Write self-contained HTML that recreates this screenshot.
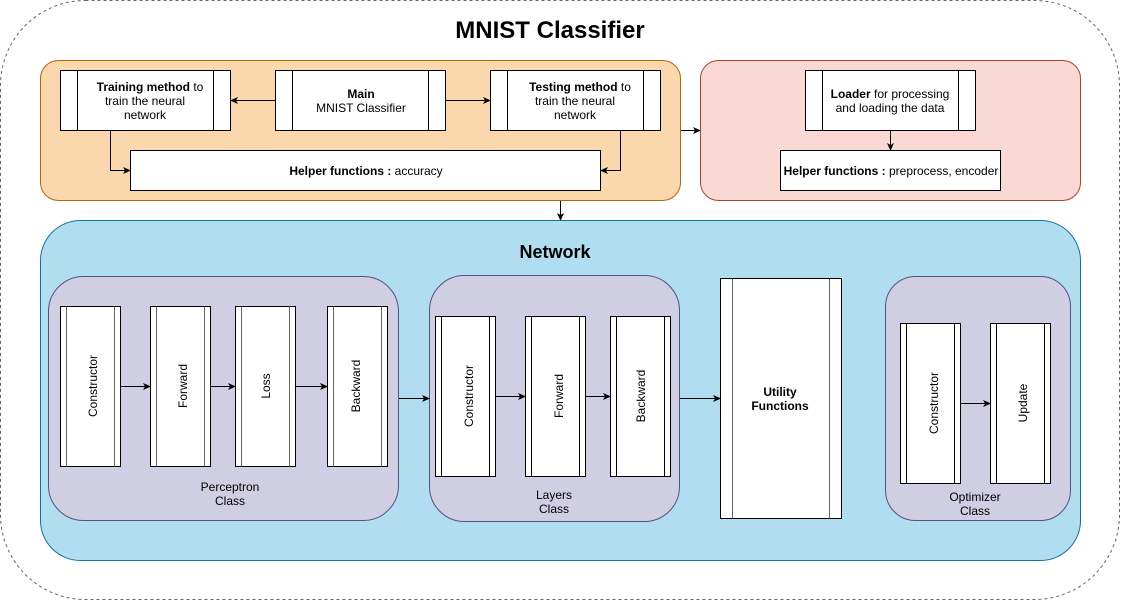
<!DOCTYPE html>
<html><head><meta charset="utf-8"><style>
html,body{margin:0;padding:0;background:#fff;}
svg{display:block;font-family:"Liberation Sans",Arial,sans-serif;}
</style></head><body>
<svg width="1121" height="601" viewBox="0 0 1121 601" xmlns="http://www.w3.org/2000/svg">
<defs>
<marker id="a" markerWidth="8" markerHeight="8" refX="7" refY="4" orient="auto" markerUnits="userSpaceOnUse">
<path d="M0,0.5 L8,4 L0,7.5 L2,4 Z" fill="#000"/></marker>
</defs>
<rect x="0.5" y="0.5" width="1119" height="599" rx="85" fill="#fff" stroke="#666" stroke-dasharray="3,3"/>
<text x="550" y="38" text-anchor="middle" font-size="24" font-weight="bold">MNIST Classifier</text>

<!-- orange -->
<rect x="40.5" y="60.5" width="640" height="140" rx="18" fill="#fad7ac" stroke="#b46504"/>
<g fill="#fff" stroke="#000">
<rect x="60.5" y="70.5" width="170" height="60"/><line x1="77.5" y1="70.5" x2="77.5" y2="130.5"/><line x1="213.5" y1="70.5" x2="213.5" y2="130.5"/>
<rect x="275.5" y="70.5" width="170" height="60"/><line x1="292.5" y1="70.5" x2="292.5" y2="130.5"/><line x1="428.5" y1="70.5" x2="428.5" y2="130.5"/>
<rect x="490.5" y="70.5" width="170" height="60"/><line x1="507.5" y1="70.5" x2="507.5" y2="130.5"/><line x1="643.5" y1="70.5" x2="643.5" y2="130.5"/>
<rect x="130.5" y="150.5" width="470" height="40"/>
</g>
<g font-size="12" text-anchor="middle">
<text x="150" y="91"><tspan font-weight="bold">Training method</tspan> to</text>
<text x="145" y="105">train the neural</text><text x="145" y="119">network</text>
<text x="361" y="98" font-weight="bold">Main</text><text x="361" y="112">MNIST Classifier</text>
<text x="580" y="91"><tspan font-weight="bold">Testing method</tspan> to</text>
<text x="575" y="105">train the neural</text><text x="575" y="119">network</text>
<text x="366" y="175"><tspan font-weight="bold">Helper functions  :</tspan> accuracy</text>
</g>
<g stroke="#000" fill="none" marker-end="url(#a)">
<line x1="275" y1="100.5" x2="231" y2="100.5"/>
<line x1="446" y1="100.5" x2="490" y2="100.5"/>
<polyline points="110.5,131 110.5,170.5 130,170.5"/>
<polyline points="620.5,131 620.5,170.5 601,170.5"/>
<line x1="681" y1="130.5" x2="700" y2="130.5"/>
<line x1="560.5" y1="201" x2="560.5" y2="220"/>
</g>

<!-- red -->
<rect x="700.5" y="60.5" width="380" height="140" rx="18" fill="#fad9d5" stroke="#ae4132"/>
<g fill="#fff" stroke="#000">
<rect x="805.5" y="70.5" width="170" height="60"/><line x1="822.5" y1="70.5" x2="822.5" y2="130.5"/><line x1="958.5" y1="70.5" x2="958.5" y2="130.5"/>
<rect x="780.5" y="150.5" width="220" height="40"/>
</g>
<g font-size="12" text-anchor="middle">
<text x="890" y="98"><tspan font-weight="bold">Loader</tspan> for processing</text>
<text x="890" y="112">and loading the data</text>
<text x="891" y="175"><tspan font-weight="bold">Helper functions :</tspan> preprocess, encoder</text>
</g>
<line x1="890.5" y1="131" x2="890.5" y2="150" stroke="#000" marker-end="url(#a)"/>

<!-- blue -->
<rect x="40.5" y="220.5" width="1040" height="340" rx="40" fill="#b1ddf0" stroke="#10739e"/>
<text x="555" y="258" text-anchor="middle" font-size="18" font-weight="bold">Network</text>

<g fill="#d0cee2" stroke="#56517e">
<rect x="48.5" y="276.5" width="350" height="244" rx="35"/>
<rect x="429.5" y="275.5" width="250" height="246" rx="35"/>
<rect x="885.5" y="276.5" width="185" height="244" rx="30"/>
</g>

<g fill="#fff" stroke="#000">
<!-- perceptron -->
<rect x="60.5" y="306.5" width="60" height="160"/><rect x="150.5" y="306.5" width="60" height="160"/>
<rect x="235.5" y="306.5" width="60" height="160"/><rect x="327.5" y="306.5" width="60" height="160"/>
<!-- layers -->
<rect x="435.5" y="316.5" width="60" height="160"/><rect x="525.5" y="316.5" width="60" height="160"/><rect x="610.5" y="316.5" width="60" height="160"/>
<!-- utility -->
<rect x="720.5" y="278.5" width="121" height="240"/>
<!-- optimizer -->
<rect x="900.5" y="323.5" width="60" height="160"/><rect x="990.5" y="323.5" width="60" height="160"/>
</g>
<g stroke="#666" stroke-width="1">
<line x1="66.5" y1="306.5" x2="66.5" y2="466.5"/><line x1="114.5" y1="306.5" x2="114.5" y2="466.5"/>
<line x1="156.5" y1="306.5" x2="156.5" y2="466.5"/><line x1="204.5" y1="306.5" x2="204.5" y2="466.5"/>
<line x1="241.5" y1="306.5" x2="241.5" y2="466.5"/><line x1="289.5" y1="306.5" x2="289.5" y2="466.5"/>
<line x1="333.5" y1="306.5" x2="333.5" y2="466.5"/><line x1="381.5" y1="306.5" x2="381.5" y2="466.5"/>
<line x1="732.5" y1="278.5" x2="732.5" y2="518.5"/><line x1="829.5" y1="278.5" x2="829.5" y2="518.5"/>
</g>
<g stroke="#000">
<line x1="441.5" y1="316.5" x2="441.5" y2="476.5"/><line x1="489.5" y1="316.5" x2="489.5" y2="476.5"/>
<line x1="531.5" y1="316.5" x2="531.5" y2="476.5"/><line x1="579.5" y1="316.5" x2="579.5" y2="476.5"/>
<line x1="616.5" y1="316.5" x2="616.5" y2="476.5"/><line x1="664.5" y1="316.5" x2="664.5" y2="476.5"/>
<line x1="906.5" y1="323.5" x2="906.5" y2="483.5"/><line x1="954.5" y1="323.5" x2="954.5" y2="483.5"/>
<line x1="996.5" y1="323.5" x2="996.5" y2="483.5"/><line x1="1044.5" y1="323.5" x2="1044.5" y2="483.5"/>
</g>

<g font-size="12" text-anchor="middle" dominant-baseline="central">
<text transform="translate(93,386) rotate(-90)">Constructor</text>
<text transform="translate(183,386) rotate(-90)">Forward</text>
<text transform="translate(266,386) rotate(-90)">Loss</text>
<text transform="translate(356,386) rotate(-90)">Backward</text>
<text transform="translate(469,396) rotate(-90)">Constructor</text>
<text transform="translate(559,396) rotate(-90)">Forward</text>
<text transform="translate(641,396) rotate(-90)">Backward</text>
<text transform="translate(934,403) rotate(-90)">Constructor</text>
<text transform="translate(1023,403) rotate(-90)">Update</text>
</g>
<g font-size="12" text-anchor="middle">
<text x="230" y="491">Perceptron</text><text x="230" y="505">Class</text>
<text x="554" y="499">Layers</text><text x="554" y="513">Class</text>
<text x="975" y="501">Optimizer</text><text x="975" y="515">Class</text>
<text x="780" y="396" font-weight="bold">Utility</text><text x="780" y="410" font-weight="bold">Functions</text>
</g>

<g stroke="#000" fill="none" marker-end="url(#a)">
<line x1="121" y1="386.5" x2="150" y2="386.5"/>
<line x1="211" y1="386.5" x2="235" y2="386.5"/>
<line x1="296" y1="386.5" x2="327" y2="386.5"/>
<line x1="399" y1="398.5" x2="429" y2="398.5"/>
<line x1="496" y1="396.5" x2="525" y2="396.5"/>
<line x1="586" y1="396.5" x2="610" y2="396.5"/>
<line x1="680" y1="398.5" x2="720" y2="398.5"/>
<line x1="961" y1="403.5" x2="990" y2="403.5"/>
</g>
</svg>
</body></html>
